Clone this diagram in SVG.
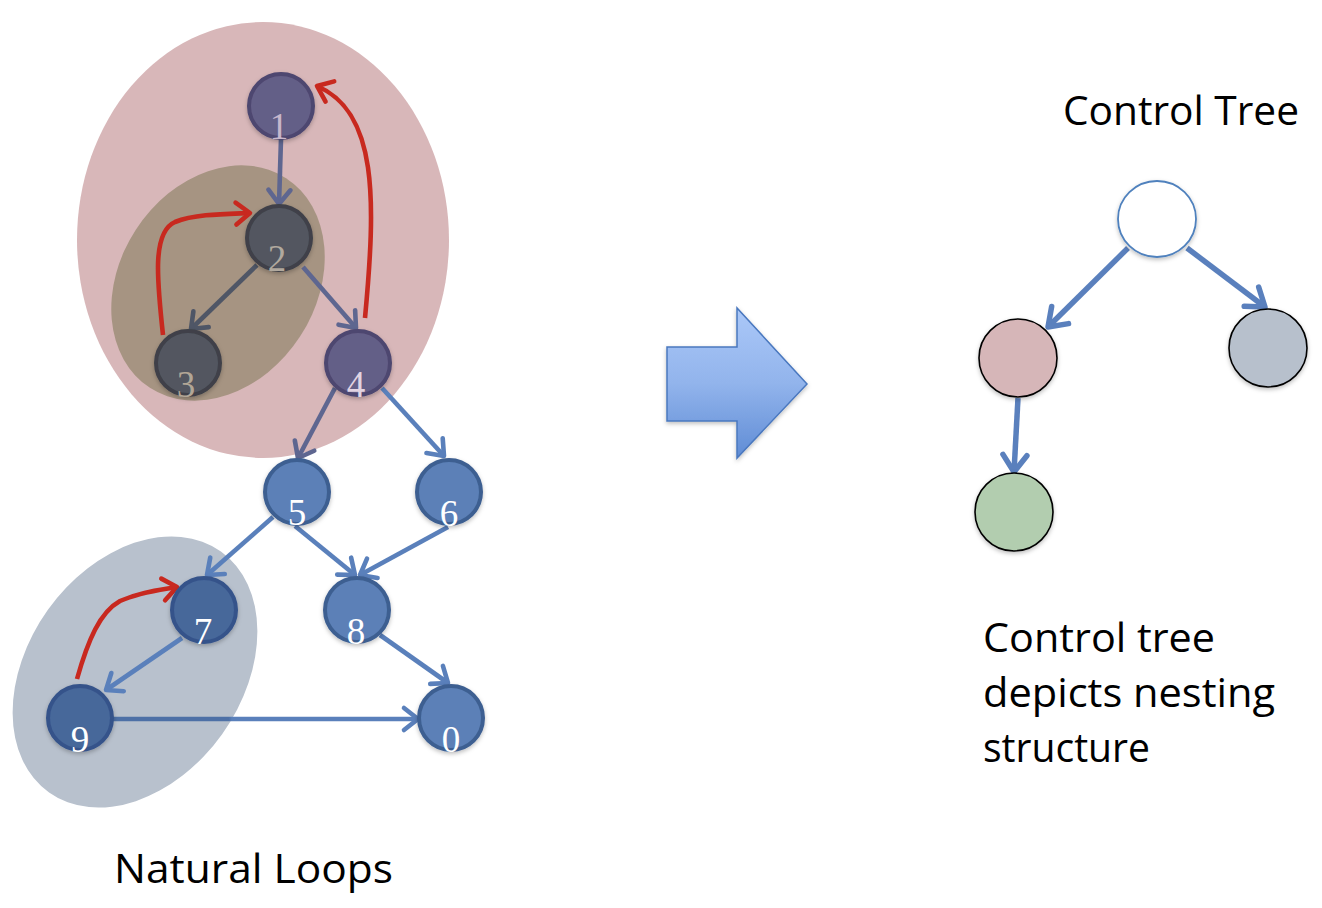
<svg xmlns="http://www.w3.org/2000/svg" width="1322" height="908" viewBox="0 0 1322 908">
<defs>
<style>
.txt{font-family:"Open Sans","Liberation Sans",sans-serif;font-size:40px;fill:#000;}
.dig{font-family:"Liberation Serif",serif;font-size:37px;text-anchor:middle;}
.e{fill:none;stroke-width:4.6;stroke-linecap:butt;}
.eb{stroke:#5a80bb;marker-end:url(#mb);}
.ep{stroke:#5e6690;marker-end:url(#mp);}
.ed{stroke:#4f5666;marker-end:url(#md);}
.er{stroke:#c8291f;marker-end:url(#mr);}
.et{fill:none;stroke:#5a80bd;stroke-width:5.5;marker-end:url(#mt);}
.nb{fill:#5b80b7;stroke:#3e5f91;stroke-width:4;}
.nd{fill:#46679a;stroke:#35538a;stroke-width:4;}
.np{fill:#645e87;stroke:#4e466f;stroke-width:4;}
.ng{fill:#525761;stroke:#3f4148;stroke-width:4;}
.tn{stroke:#000;stroke-width:1.6;}
</style>
<filter id="sh" x="-20%" y="-20%" width="140%" height="150%">
<feDropShadow dx="0" dy="2" stdDeviation="2" flood-color="#000" flood-opacity="0.25"/>
</filter>
<marker id="mb" markerUnits="userSpaceOnUse" orient="auto" overflow="visible" markerWidth="1" markerHeight="1"><path d="M-14,-11 L0,0 L-14,11" fill="none" stroke="#5a80bb" stroke-width="4.6" stroke-linecap="round" stroke-linejoin="round"/></marker>
<marker id="mp" markerUnits="userSpaceOnUse" orient="auto" overflow="visible" markerWidth="1" markerHeight="1"><path d="M-14,-11 L0,0 L-14,11" fill="none" stroke="#5e6690" stroke-width="4.6" stroke-linecap="round" stroke-linejoin="round"/></marker>
<marker id="md" markerUnits="userSpaceOnUse" orient="auto" overflow="visible" markerWidth="1" markerHeight="1"><path d="M-14,-11 L0,0 L-14,11" fill="none" stroke="#4f5666" stroke-width="4.6" stroke-linecap="round" stroke-linejoin="round"/></marker>
<marker id="mr" markerUnits="userSpaceOnUse" orient="auto" overflow="visible" markerWidth="1" markerHeight="1"><path d="M-14,-11 L0,0 L-14,11" fill="none" stroke="#c8291f" stroke-width="4.6" stroke-linecap="round" stroke-linejoin="round"/></marker>
<marker id="mt" markerUnits="userSpaceOnUse" orient="auto" overflow="visible" markerWidth="1" markerHeight="1"><path d="M-17,-12 L0,0 L-17,12" fill="none" stroke="#5a80bd" stroke-width="5.5" stroke-linecap="round" stroke-linejoin="round"/></marker>
<linearGradient id="ga" x1="0" y1="0" x2="0" y2="1">
<stop offset="0" stop-color="#abc8f8"/>
<stop offset="0.5" stop-color="#92b4ec"/>
<stop offset="1" stop-color="#5f8cd5"/>
</linearGradient>
<linearGradient id="g90" gradientUnits="userSpaceOnUse" x1="113" y1="0" x2="418" y2="0">
<stop offset="0" stop-color="#4d70a6"/>
<stop offset="0.38" stop-color="#4d70a6"/>
<stop offset="0.39" stop-color="#5a80bb"/>
<stop offset="1" stop-color="#5a80bb"/>
</linearGradient>
</defs>
<rect width="1322" height="908" fill="#ffffff"/>

<g id="regions">
<ellipse id="loop-outer" cx="263" cy="240" rx="186" ry="218" fill="#d8b7b9"/>
<ellipse id="loop-inner" cx="218" cy="283" rx="98" ry="125" transform="rotate(33 218 283)" fill="#a69482"/>
<ellipse id="loop-lower" cx="135" cy="672" rx="107" ry="148" transform="rotate(35.5 135 672)" fill="#b8c1cd"/>
</g>

<g id="connectors">
<line class="e ep" x1="281" y1="139" x2="279" y2="204"/>
<line class="e ed" x1="257" y1="265" x2="191" y2="329"/>
<line class="e ep" x1="303" y1="267" x2="356" y2="328"/>
<path class="e er" d="M365,318 C376,200 378,112 317,86"/>
<path class="e er" d="M163,335 C157,280 152,232 175,222 C195,214 225,214 250,213"/>
<line class="e ep" x1="335" y1="388" x2="298" y2="458"/>
<line class="e eb" x1="382" y1="388" x2="444" y2="456"/>
<line class="e eb" x1="273" y1="517" x2="207" y2="575"/>
<line class="e eb" x1="295" y1="526" x2="355" y2="575"/>
<line class="e eb" x1="448" y1="527" x2="360" y2="575"/>
<line class="e eb" x1="182" y1="638" x2="106" y2="690"/>
<line class="e eb" x1="380" y1="635" x2="448" y2="683"/>
<line class="e" stroke="url(#g90)" marker-end="url(#mb)" x1="113" y1="719" x2="418" y2="719"/>
<path class="e er" d="M77,679 C88,640 100,612 120,601 C140,592 160,590 177,587"/>
<line class="et" x1="1128" y1="248" x2="1048" y2="327"/>
<line class="et" x1="1187" y1="248" x2="1265" y2="307"/>
<line class="et" x1="1018" y1="398" x2="1014" y2="472"/>
</g>

<g id="node-1"><circle class="np" cx="281" cy="106" r="32" filter="url(#sh)"/><text class="dig" x="279" y="139" fill="#c8b7cc">1</text></g>
<g id="node-2"><circle class="ng" cx="279" cy="238" r="32" filter="url(#sh)"/><text class="dig" x="277" y="271" fill="#b1a99e">2</text></g>
<g id="node-3"><circle class="ng" cx="188" cy="363" r="32" filter="url(#sh)"/><text class="dig" x="186" y="397" fill="#b2a696">3</text></g>
<g id="node-4"><circle class="np" cx="358" cy="363" r="32" filter="url(#sh)"/><text class="dig" x="356" y="397" fill="#e2d4e2">4</text></g>
<g id="node-5"><circle class="nb" cx="297" cy="492" r="32" filter="url(#sh)"/><text class="dig" x="297" y="525" fill="#ffffff">5</text></g>
<g id="node-6"><circle class="nb" cx="449" cy="492" r="32" filter="url(#sh)"/><text class="dig" x="449" y="526" fill="#ffffff">6</text></g>
<g id="node-7"><circle class="nd" cx="204" cy="610" r="32" filter="url(#sh)"/><text class="dig" x="203" y="644" fill="#ffffff">7</text></g>
<g id="node-8"><circle class="nb" cx="357" cy="610" r="32" filter="url(#sh)"/><text class="dig" x="356" y="644" fill="#ffffff">8</text></g>
<g id="node-9"><circle class="nd" cx="80" cy="718" r="32" filter="url(#sh)"/><text class="dig" x="80" y="752" fill="#ffffff">9</text></g>
<g id="node-0"><circle class="nb" cx="451" cy="718" r="32" filter="url(#sh)"/><text class="dig" x="451" y="752" fill="#ffffff">0</text></g>

<g id="transform-arrow">
<polygon points="667,347 737,347 737,308 807,384 737,458 737,421 667,421" fill="url(#ga)" stroke="#4a78bf" stroke-width="1.5" stroke-linejoin="miter" filter="url(#sh)"/>
</g>

<g id="tree-root"><ellipse cx="1157" cy="219" rx="39" ry="38" fill="#ffffff" stroke="#4f81bd" stroke-width="1.8" filter="url(#sh)"/></g>
<g id="tree-pink"><circle class="tn" cx="1018" cy="358" r="39" fill="#d6b6b8" filter="url(#sh)"/></g>
<g id="tree-gray"><circle class="tn" cx="1268" cy="348" r="39" fill="#b7c0cc" filter="url(#sh)"/></g>
<g id="tree-green"><circle class="tn" cx="1014" cy="512" r="39" fill="#b2cdaf" filter="url(#sh)"/></g>

<g id="labels">
<text class="txt" x="1063" y="125" textLength="236" lengthAdjust="spacingAndGlyphs">Control Tree</text>
<text class="txt" x="983" y="652" textLength="232" lengthAdjust="spacingAndGlyphs">Control tree</text>
<text class="txt" x="983" y="707" textLength="292" lengthAdjust="spacingAndGlyphs">depicts nesting</text>
<text class="txt" x="983" y="762" textLength="167" lengthAdjust="spacingAndGlyphs">structure</text>
<text class="txt" x="114" y="883" textLength="279" lengthAdjust="spacingAndGlyphs">Natural Loops</text>
</g>
</svg>
